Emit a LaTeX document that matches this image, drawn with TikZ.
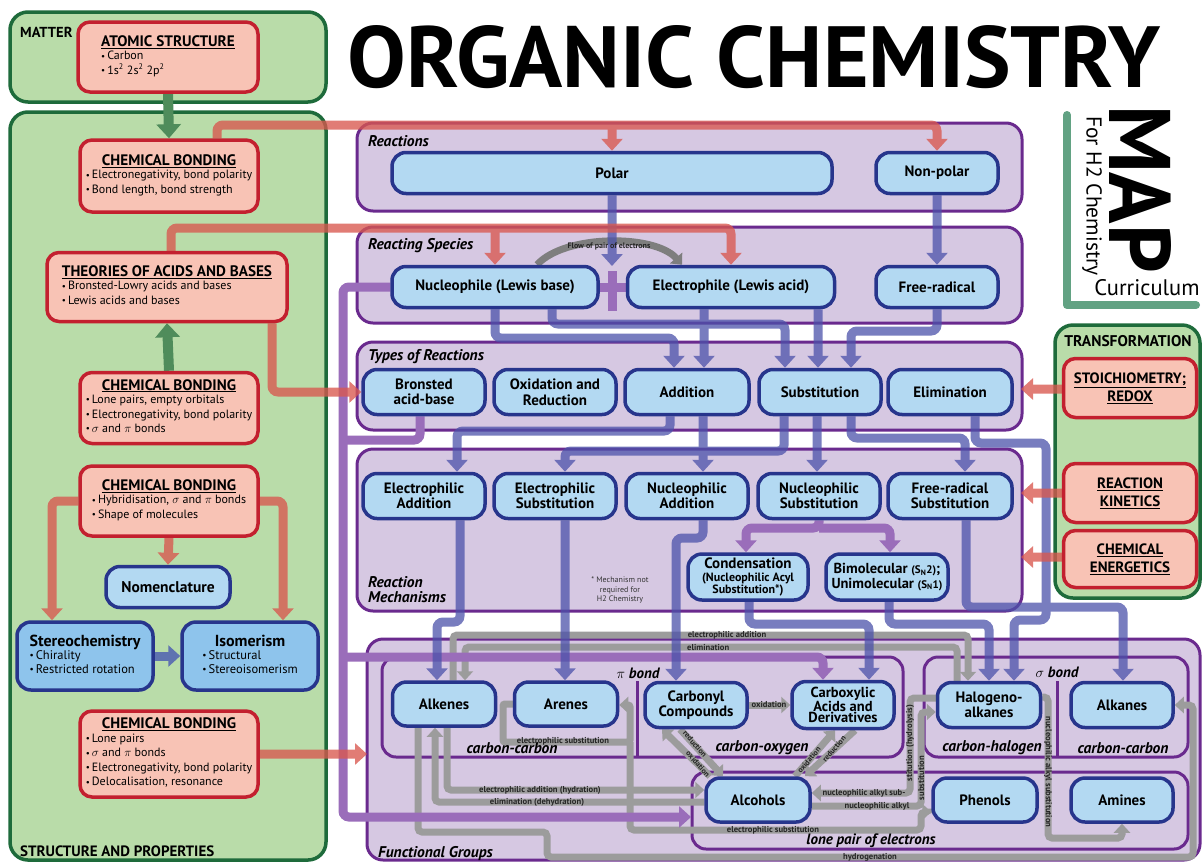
\documentclass[tikz,border=0pt]{standalone}
\usepackage{fontspec}
\usepackage{graphicx}
\setmainfont{PT Sans}
\usetikzlibrary{arrows.meta}
\pgfdeclarelayer{panels}
\pgfdeclarelayer{links}
\pgfsetlayers{panels,links,main}

\definecolor{gfill}{HTML}{B9DCA9}
\definecolor{gline}{HTML}{1E6B3B}
\definecolor{rfill}{HTML}{F8C3B5}
\definecolor{rline}{HTML}{C3202F}
\definecolor{bfill}{HTML}{B3D9F2}
\definecolor{bfilldark}{HTML}{8EC4EC}
\definecolor{bline}{HTML}{27358C}
\definecolor{pfill}{HTML}{D6C8E2}
\definecolor{pline}{HTML}{6A2A8E}
\definecolor{arrblue}{HTML}{4C52AA}
\definecolor{arrred}{HTML}{D9584F}
\definecolor{arrpurp}{HTML}{9A6DBA}
\definecolor{arrgray}{HTML}{9C9C9C}
\definecolor{arcgray}{HTML}{7E7E7E}
\definecolor{arrgreen}{HTML}{4F8C5B}
\definecolor{arrslate}{HTML}{5F73B0}
\definecolor{brk}{HTML}{62A283}

\newcommand{\bul}{\raisebox{0.6pt}{\scalebox{0.75}{\textbullet}}\,}
% red concept box: underlined centred title over a left-aligned bullet list
\newcommand{\rtext}[2]{\begin{tabular}{@{}l@{}}\multicolumn{1}{@{}c@{}}{\fontsize{15.2}{17}\selectfont\bfseries\underline{#1}}\\[-1pt]#2\end{tabular}}
% blue box with a title and bullets
\newcommand{\btext}[2]{\begin{tabular}{@{}l@{}}\multicolumn{1}{@{}c@{}}{\fontsize{16}{17}\selectfont\bfseries #1}\\[-1pt]#2\end{tabular}}

\tikzset{
  gpanel/.style={draw=gline,line width=3.5pt,fill=gfill,rounded corners=18pt},
  ppanel/.style={draw=pline,line width=3pt,fill=pfill,rounded corners=16pt},
  pinner/.style={draw=pline,line width=3pt,rounded corners=14pt},
  rbox/.style={draw=rline,fill=rfill,line width=3.5pt,rounded corners=12pt,inner sep=0pt,align=center,font=\fontsize{12}{14.5}\selectfont},
  tbox/.style={rbox,font=\fontsize{15}{18}\selectfont\bfseries},
  bbox/.style={draw=bline,fill=bfill,line width=3.5pt,rounded corners=14pt,inner sep=0pt,align=center,font=\fontsize{15}{15.5}\selectfont\bfseries},
  fgbox/.style={bbox,font=\fontsize{15}{15}\selectfont\bfseries},
  sz/.style 2 args={minimum width=#1pt,minimum height=#2pt},
  blueln/.style={draw=arrblue,line width=9pt,rounded corners=6pt},
  bluearr/.style={blueln,-{Triangle[width=21pt,length=12pt]}},
  redln/.style={draw=arrred,line width=9pt,rounded corners=6pt},
  redarr/.style={redln,-{Triangle[width=21pt,length=12pt]}},
  purpln/.style={draw=arrpurp,line width=9pt,rounded corners=6pt},
  purparr/.style={purpln,-{Triangle[width=21pt,length=12pt]}},
  grayln/.style={draw=arrgray,line width=7pt,rounded corners=4pt},
  grayarr/.style={grayln,-{Triangle[width=16pt,length=9pt]}},
  greenarr/.style={draw=arrgreen,line width=10pt,-{Triangle[width=24pt,length=14pt]}},
  slatearr/.style={draw=arrslate,line width=9pt,-{Triangle[width=21pt,length=12pt]}},
  plab/.style={anchor=west,inner sep=0pt,font=\fontsize{15.5}{16}\selectfont\bfseries\itshape},
  glab/.style={inner sep=0pt,font=\fontsize{8.6}{9}\selectfont\bfseries,text=black!85},
  dlab/.style={glab,font=\fontsize{7.8}{8}\selectfont\bfseries},
  caplab/.style={inner sep=0pt,font=\fontsize{15}{16}\selectfont\bfseries},
  sublab/.style={inner sep=0pt,font=\fontsize{15.5}{16}\selectfont\bfseries\itshape},
}

\begin{document}
\begin{tikzpicture}[x=1pt,y=-1pt]
\useasboundingbox (0,0) rectangle (1204,863);

% ---------- headings ----------
\node[anchor=south west,inner sep=0pt] (title) at (347,89)
  {\resizebox{813pt}{62pt}{\fontsize{80}{90}\selectfont\bfseries ORGANIC CHEMISTRY}};
\node[rotate=-90,inner sep=0pt] (map) at (1140,189)
  {\resizebox{168pt}{62pt}{\fontsize{80}{90}\selectfont\bfseries MAP}};
\node[rotate=-90,inner sep=0pt,font=\fontsize{21.5}{23}\selectfont] (forh2) at (1092,196) {For H2 Chemistry};
\node[inner sep=0pt,font=\fontsize{22.5}{24}\selectfont] (curr) at (1147,288) {Curriculum};

% ---------- left column ----------
\node[caplab,anchor=west,font=\fontsize{14.5}{16}\selectfont\bfseries] (matterlab) at (20,32) {MATTER};
\node[caplab,anchor=west] (splab) at (20,851) {STRUCTURE AND PROPERTIES};

\node[rbox,sz={180}{70}] (atom) at (168,57)
  {\rtext{ATOMIC STRUCTURE}{\bul Carbon\\ \bul 1s\textsuperscript{2} 2s\textsuperscript{2} 2p\textsuperscript{2}}};
\node[rbox,sz={178}{72}] (cbA) at (169,176)
  {\rtext{CHEMICAL BONDING}{\bul Electronegativity, bond polarity\\ \bul Bond length, bond strength}};
\node[rbox,sz={240}{69}] (theo) at (167,287)
  {\rtext{THEORIES OF ACIDS AND BASES}{\bul Bronsted-Lowry acids and bases\\ \bul Lewis acids and bases}};
\node[rbox,sz={178}{71}] (cbB) at (169,408)
  {\rtext{CHEMICAL BONDING}{\bul Lone pairs, empty orbitals\\ \bul Electronegativity, bond polarity\\ \bul $\sigma$ and $\pi$ bonds}};
\node[rbox,sz={178}{70}] (cbC) at (169,501)
  {\rtext{CHEMICAL BONDING}{\bul Hybridisation, $\sigma$ and $\pi$ bonds\\ \bul Shape of molecules}};
\node[bbox,sz={124}{41},font=\fontsize{15.5}{16}\selectfont\bfseries] (nomen) at (168,587) {Nomenclature};
\node[bbox,fill=bfilldark,sz={136}{68},font=\fontsize{12.5}{14}\selectfont] (stereo) at (85,656)
  {\btext{Stereochemistry}{\bul Chirality\\ \bul Restricted rotation}};
\node[bbox,fill=bfilldark,sz={136}{68},font=\fontsize{12.5}{14}\selectfont] (isom) at (250,656)
  {\btext{Isomerism}{\bul Structural\\ \bul Stereoisomerism}};
\node[rbox,sz={178}{86}] (cbD) at (169,754)
  {\rtext{CHEMICAL BONDING}{\bul Lone pairs\\ \bul $\sigma$ and $\pi$ bonds\\ \bul Electronegativity, bond polarity\\ \bul Delocalisation, resonance}};

% ---------- transformation column ----------
\node[caplab,font=\fontsize{15.5}{16}\selectfont\bfseries] (trlab) at (1128,341) {TRANSFORMATION};
\node[tbox,sz={133}{59}] (stoi) at (1130,388) {\underline{STOICHIOMETRY;}\\\underline{REDOX}};
\node[tbox,sz={133}{59}] (kin) at (1130,493) {\underline{REACTION}\\\underline{KINETICS}};
\node[tbox,sz={133}{57}] (ener) at (1130,559) {\underline{CHEMICAL}\\\underline{ENERGETICS}};

% ---------- reactions and species ----------
\node[plab] (reaclab) at (368,141) {Reactions};
\node[bbox,sz={440}{41}] (polar) at (612,173) {Polar};
\node[bbox,sz={122}{41}] (nonp) at (937,173) {Non-polar};

\node[plab] (speclab) at (368,246) {Reacting Species};
\node[bbox,sz={206}{41}] (nuc) at (495,287) {Nucleophile (Lewis base)};
\node[bbox,sz={207}{41}] (elec) at (731,287) {Electrophile (Lewis acid)};
\node[bbox,sz={122}{41}] (frad) at (937,287) {Free-radical};

% ---------- types of reactions ----------
\node[plab] (typelab) at (368,357) {Types of Reactions};
\node[bbox,sz={122}{45}] (bron) at (424,392) {Bronsted\\acid-base};
\node[bbox,sz={122}{45}] (oxred) at (555,392) {Oxidation and\\Reduction};
\node[bbox,sz={124}{45}] (addn) at (687,392) {Addition};
\node[bbox,sz={122}{45}] (subs) at (820,392) {Substitution};
\node[bbox,sz={124}{45}] (elim) at (950,392) {Elimination};

% ---------- mechanisms ----------
\node[plab,align=left,font=\fontsize{15.5}{15}\selectfont\bfseries\itshape] (mechlab) at (368,590) {Reaction\\Mechanisms};
\node[bbox,sz={122}{45}] (eadd) at (424,496) {Electrophilic\\Addition};
\node[bbox,sz={122}{45}] (esub) at (555,496) {Electrophilic\\Substitution};
\node[bbox,sz={122}{45}] (nadd) at (687,496) {Nucleophilic\\Addition};
\node[bbox,sz={122}{45}] (nsub) at (819,496) {Nucleophilic\\Substitution};
\node[bbox,sz={124}{45}] (frsub) at (950,496) {Free-radical\\Substitution};
\node[bbox,sz={120}{46},font=\fontsize{15}{12.5}\selectfont\bfseries] (cond) at (748,577)
  {Condensation\\{\fontsize{12}{12}\selectfont(Nucleophilic Acyl}\\{\fontsize{12}{12}\selectfont Substitution*)}};
\node[bbox,sz={122}{46},font=\fontsize{14.5}{14.5}\selectfont\bfseries] (bimol) at (887,577)
  {Bimolecular {\fontsize{11}{11}\selectfont(S\textsubscript{N}2)};\\Unimolecular {\fontsize{11}{11}\selectfont(S\textsubscript{N}1)}};
\node[inner sep=0pt,align=center,font=\fontsize{8}{9.5}\selectfont,text=black!80] (note) at (620,590)
  {* Mechanism not\\required for\\H2 Chemistry};

% ---------- functional groups ----------
\node[plab] (fglab) at (378,853) {Functional Groups};
\node[fgbox,sz={103}{44}] (alkenes) at (444,704) {Alkenes};
\node[fgbox,sz={103}{44}] (arenes) at (566,704) {Arenes};
\node[fgbox,sz={102}{45}] (carbonyl) at (696,705) {Carbonyl\\Compounds};
\node[fgbox,sz={102}{47},font=\fontsize{14.5}{11.5}\selectfont\bfseries] (carbox) at (843,705) {Carboxylic\\Acids and\\Derivatives};
\node[fgbox,sz={103}{45}] (halo) at (989,705) {Halogeno-\\alkanes};
\node[fgbox,sz={102}{45}] (alkanes) at (1122,705) {Alkanes};
\node[fgbox,sz={104}{44}] (alcohols) at (758,800) {Alcohols};
\node[fgbox,sz={104}{44}] (phenols) at (985,800) {Phenols};
\node[fgbox,sz={102}{44}] (amines) at (1122,800) {Amines};

\node[inner sep=0pt,font=\fontsize{15}{16}\selectfont\bfseries] (pib) at (638,673) {$\pi$ \itshape bond};
\node[inner sep=0pt,font=\fontsize{15}{16}\selectfont\bfseries] (sib) at (1057,672) {$\sigma$ \itshape bond};
\node[sublab] (ccA) at (512,748) {carbon-carbon};
\node[sublab] (co) at (762,748) {carbon-oxygen};
\node[sublab] (ch) at (992,748) {carbon-halogen};
\node[sublab] (ccB) at (1123,748) {carbon-carbon};
\node[sublab,font=\fontsize{15}{16}\selectfont\bfseries\itshape] (lp) at (871,841) {lone pair of electrons};

% labels on the grey reaction paths
\node[glab] (l1) at (727,635) {electrophilic addition};
\node[glab,anchor=west] (l2) at (687,647) {elimination};
\node[glab] (l3) at (563,741) {electrophilic substitution};
\node[glab] (l4) at (540,790) {electrophilic addition (hydration)};
\node[glab] (l5) at (537,802) {elimination (dehydration)};
\node[glab] (l6) at (773,830) {electrophilic substitution};
\node[glab] (l7) at (870,857) {hydrogenation};
\node[glab] (l8) at (769,704) {oxidation};
\node[dlab,rotate=-49] (l9) at (695,744) {reduction};
\node[dlab,rotate=-49] (l10) at (698,764) {oxidation};
\node[dlab,rotate=50] (l11) at (809,760) {oxidation};
\node[dlab,rotate=50] (l12) at (834,749) {reduction};
\node[glab] (l13) at (864,793) {nucleophilic alkyl sub-};
\node[glab,rotate=90] (l14) at (910,743) {stitution (hydrolysis)};
\node[glab] (l15) at (877,806) {nucleophilic alkyl};
\node[glab,rotate=90] (l16) at (921,778) {substitution};
\node[glab,rotate=-90] (l17) at (1048,772) {nucleophilic alkyl substitution};
\node[inner sep=0pt,font=\fontsize{8}{9}\selectfont\bfseries,text=black!85] (flowlab) at (609,246) {Flow of pair of electrons};

% free ends of connectors
\coordinate (pj) at (612,266);
\coordinate (plt) at (612,271);
\coordinate (plb) at (612,311);
\coordinate (fgin) at (367,754);
\coordinate (lpin) at (691,817);
\coordinate (pj1) at (343,657);
\coordinate (pj2) at (343,440);
\coordinate (tin1) at (1021,389);
\coordinate (tin2) at (1021,493);
\coordinate (tin3) at (1021,557);
\coordinate (gj) at (630,742);

% ---------- panels ----------
\begin{pgfonlayer}{panels}
  \fill[white] (0,0) rectangle (1204,863);
  \path[gpanel] (10,12) rectangle (326,102);
  \path[gpanel] (10,112) rectangle (326,860);
  \path[gpanel] (1055,325) rectangle (1200,598);
  \path[ppanel] (357,123) rectangle (1022,211);
  \path[ppanel] (357,227) rectangle (1022,323);
  \path[ppanel] (357,342) rectangle (1022,430);
  \path[ppanel] (357,449) rectangle (1022,611);
  \path[ppanel] (367,639) rectangle (1200,860);
  \path[pinner] (382,657) rectangle (903,757);
  \path[pinner] (924,657) rectangle (1188,757);
  \path[pinner] (692,772) rectangle (1188,849);
  \draw[pline,line width=3pt] (637,681) -- (637,757);
  \draw[pline,line width=3pt] (1057,681) -- (1057,757);
  \draw[brk,line width=8pt,line cap=round,line join=round] (1067,115) |- (1196,305);
\end{pgfonlayer}

% ---------- connectors ----------
\begin{pgfonlayer}{links}
  % grey: conversions between functional groups
  \draw[grayarr] (alkenes.north -| 453,0) -- (453,635) -| (halo.north -| 968,0);
  \draw[grayarr] (halo.north -| 957,0) -- (957,647) -| (alkenes.north -| 465,0);
  \draw[grayarr,rounded corners=2pt] (arenes.west) -| (503,742) -| (630,705) -- (arenes.east |- 0,705);
  \draw[grayarr] (gj) |- (921,830) |- (phenols.west |- 0,812);
  \draw[grayarr] (alkenes.south -| 447,0) |- (alcohols.west |- 0,790);
  \draw[grayarr] (alcohols.west |- 0,802) -| (alkenes.south -| 435,0);
  \draw[grayarr] (alkenes.south -| 418,0) |- (547,832) |- (1193,857) |- (alkanes.east);
  \draw[grayarr] ([xshift=-16pt]carbonyl.south) -- ([xshift=-35pt]alcohols.north);
  \draw[grayarr] ([xshift=-48pt]alcohols.north) -- ([xshift=-34pt]carbonyl.south);
  \draw[grayarr] ([xshift=37pt]alcohols.north) -- ([xshift=-8pt]carbox.south);
  \draw[grayarr] ([xshift=12pt]carbox.south) -- ([xshift=47pt]alcohols.north);
  \draw[grayarr] (carbonyl.east) -- (carbox.west);
  \draw[grayarr] (halo.west |- 0,698) -| (910,793) -- (alcohols.east |- 0,793);
  \draw[grayarr] (alcohols.east |- 0,806) -| (921,712) -- (halo.west |- 0,712);
  \draw[grayarr] (halo.east |- 0,697) -| (1048,838) -| (amines.south);
  % grey: flow of the electron pair
  \draw[draw=arcgray,line width=7pt,-{Triangle[width=16pt,length=9pt]}]
    ([xshift=42pt]nuc.north) .. controls (565,234) and (655,234) .. ([xshift=-49pt]elec.north);

  % purple
  \draw[purparr] (nuc.west) -| (343,817) -- (lpin);
  \draw[purparr] (pj1) -| (carbox.north -| 823,0);
  \draw[purpln] (bron.south -| 420,0) |- (pj2);
  \draw[purpln] (nuc.east) -- (elec.west);
  \draw[purpln] (plt) -- (plb);
  \draw[purparr] (nsub.south) -- (nsub.south |- 0,528) -| (cond.north -| 746,0);
  \draw[purparr] (nsub.south |- 0,528) -| (bimol.north -| 890,0);

  % green and slate arrows inside the left column
  \draw[greenarr] (atom.south) -- (cbA.north);
  \draw[greenarr] (cbB.north) -- (theo.south);
  \draw[slatearr] (stereo.east) -- (isom.west);

  % blue: classification of reactions
  \begin{scope}[transparency group,opacity=0.75]
    \path (0,0) rectangle (1204,863);
    \draw[bluearr] (polar.south) -- (pj);
    \draw[bluearr] (nonp.south) -- (frad.north);
    \draw[bluearr] (nuc.south) -- (495,338) -| (addn.north -| 674,0);
    \draw[bluearr] (nuc.south -| 552,0) -- (552,324) -| (subs.north -| 785,0);
    \draw[bluearr] (elec.south -| 704,0) -- (addn.north -| 704,0);
    \draw[bluearr] (elec.south -| 818,0) -- (subs.north -| 818,0);
    \draw[bluearr] (frad.south) -- (937,331) -| (subs.north -| 851,0);
    \draw[bluearr] (addn.south -| 670,0) -- (670,431) -| (eadd.north -| 457,0);
    \draw[bluearr] (addn.south -| 703,0) -- (nadd.north -| 703,0);
    \draw[bluearr] (subs.south -| 784,0) -- (784,451) -| (esub.north -| 565,0);
    \draw[bluearr] (subs.south -| 817,0) -- (nsub.north -| 817,0);
    \draw[bluearr] (subs.south -| 851,0) -- (851,438) -| (frsub.north -| 965,0);
    \draw[bluearr] (elim.south -| 975,0) -- (975,443) -| (1046,620) -| (halo.north -| 1014,0);
    \draw[bluearr] (eadd.south -| 460,0) -- (460,622) -| (alkenes.north -| 437,0);
    \draw[bluearr] (esub.south -| 565,0) -- (arenes.north -| 565,0);
    \draw[bluearr] (nadd.south -| 703,0) -- (703,538) -| (carbonyl.north -| 676,0);
    \draw[bluearr] (cond.south -| 749,0) -- (749,624) -| (carbox.north -| 869,0);
    \draw[bluearr] (bimol.south -| 889,0) -- (889,624) -| (halo.north -| 989,0);
    \draw[bluearr] (frsub.south -| 966,0) -- (966,607) -| (alkanes.north -| 1123,0);
  \end{scope}

  % red: links from the concept boxes
  \begin{scope}[transparency group,opacity=0.78]
    \path (0,0) rectangle (1204,863);
    \draw[redarr] (cbA.north -| 217,0) |- (nonp.north |- 0,125) -- (nonp.north);
    \draw[redarr] (polar.north |- 0,125) -- (polar.north);
    \draw[redarr] (theo.north -| 171,0) |- (elec.north |- 0,228) -- (elec.north);
    \draw[redarr] (nuc.north |- 0,228) -- (nuc.north);
    \draw[redarr] (theo.south -| 272,0) |- (bron.west);
    \draw[redarr] (cbC.west) -| (stereo.north -| 52,0);
    \draw[redarr] (cbC.south) -- (nomen.north);
    \draw[redarr] (cbC.east) -| (isom.north -| 283,0);
    \draw[redarr] (cbD.east) -- (fgin);
    \draw[redarr] (stoi.west |- tin1) -- (tin1);
    \draw[redarr] (kin.west) -- (tin2);
    \draw[redarr] (ener.west |- tin3) -- (tin3);
  \end{scope}
\end{pgfonlayer}
\end{tikzpicture}
\end{document}
